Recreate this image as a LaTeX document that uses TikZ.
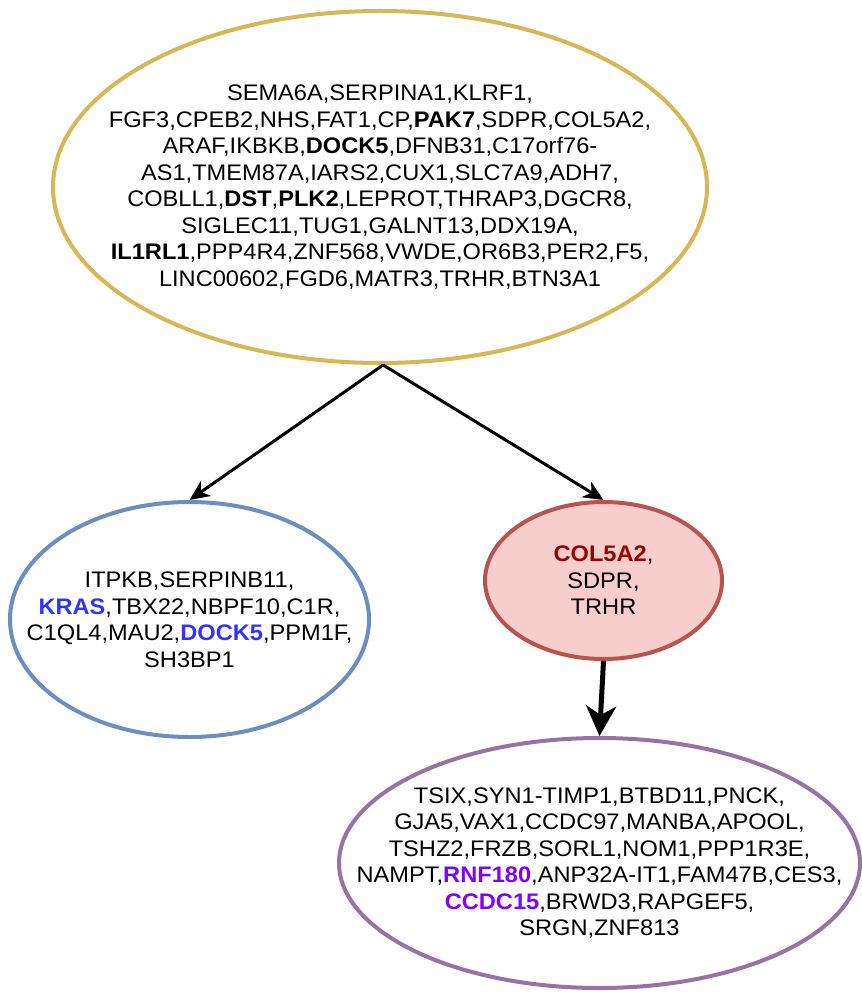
\documentclass[tikz,border=0pt]{standalone}
\usepackage{fontspec}
\setmainfont{Liberation Sans}[FakeStretch=1.05]
\usepackage{tikz}
\usetikzlibrary{shapes.geometric,arrows.meta}
\definecolor{goldline}{HTML}{D6B656}
\definecolor{blueline}{HTML}{6C8EBF}
\definecolor{redline}{HTML}{B85450}
\definecolor{redfill}{HTML}{F8CECC}
\definecolor{purpleline}{HTML}{9673A6}
\definecolor{bluegene}{HTML}{3333FF}
\definecolor{redgene}{HTML}{990000}
\definecolor{purplegene}{HTML}{7F00FF}
\newcommand{\hlgene}[2]{\textcolor{#1}{\textbf{#2}}}
\tikzstyle{cluster} = [ellipse, draw, line width=4pt, inner sep=-90pt, align=center, font=\fontsize{22.5}{26.5}\selectfont]
\tikzstyle{link} = [->, line width=3pt]
\tikzstyle{biglink} = [line width=5pt, -{Stealth[length=30pt,width=30pt,inset=9pt]}]

\begin{document}
\begin{tikzpicture}[x=1pt, y=-1pt, >={Stealth[length=20pt,width=18pt,inset=6pt]}]
		\useasboundingbox (0,0) rectangle (861,992);
		\node [cluster, draw=goldline, minimum width=654pt, minimum height=352pt] (root) at (380,187) {SEMA6A,SERPINA1,KLRF1,\\FGF3,CPEB2,NHS,FAT1,CP,\textbf{PAK7},SDPR,COL5A2,\\ARAF,IKBKB,\textbf{DOCK5},DFNB31,C17orf76-\\AS1,TMEM87A,IARS2,CUX1,SLC7A9,ADH7,\\COBLL1,\textbf{DST},\textbf{PLK2},LEPROT,THRAP3,DGCR8,\\SIGLEC11,TUG1,GALNT13,DDX19A,\\\textbf{IL1RL1},PPP4R4,ZNF568,VWDE,OR6B3,PER2,F5,\\LINC00602,FGD6,MATR3,TRHR,BTN3A1};
		\node [cluster, draw=blueline, minimum width=359pt, minimum height=235pt] (left) at (189.5,619.5) {ITPKB,SERPINB11,\\\hlgene{bluegene}{KRAS},TBX22,NBPF10,C1R,\\C1QL4,MAU2,\hlgene{bluegene}{DOCK5},PPM1F,\\SH3BP1};
		\node [cluster, draw=redline, fill=redfill, minimum width=237pt, minimum height=157pt] (shared) at (603.5,580.5) {\hlgene{redgene}{COL5A2},\\SDPR,\\TRHR};
		\node [cluster, draw=purpleline, minimum width=521pt, minimum height=250pt] (child) at (599.5,863) {TSIX,SYN1-TIMP1,BTBD11,PNCK,\\GJA5,VAX1,CCDC97,MANBA,APOOL,\\TSHZ2,FRZB,SORL1,NOM1,PPP1R3E,\\NAMPT,\hlgene{purplegene}{RNF180},ANP32A-IT1,FAM47B,CES3,\\\hlgene{purplegene}{CCDC15},BRWD3,RAPGEF5,\\SRGN,ZNF813};

		\draw [link] (root.-89) -- (left.north);
		\draw [link] (root.-89) -- (shared.north);
		\draw [biglink] (shared.south) -- (child.north);
	\end{tikzpicture}
\end{document}
